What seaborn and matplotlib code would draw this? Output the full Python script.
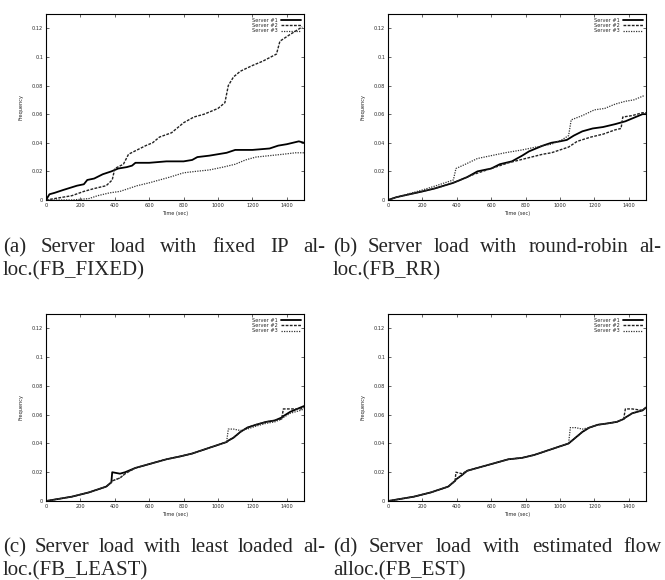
import matplotlib
matplotlib.use("Agg")
import matplotlib.pyplot as plt
import seaborn as sns

# ---- data ----
# (a) fixed IP allocation
a_t1 = [0, 20, 50, 100, 180, 220, 240, 280, 330, 380, 420, 470, 500, 520, 600, 700, 800, 850, 880, 950, 1000, 1050, 1100, 1200, 1300, 1350, 1400, 1470, 1500]
a_s1 = [0, .004, .005, .007, .010, .011, .014, .015, .018, .020, .022, .023, .024, .026, .026, .027, .027, .028, .030, .031, .032, .033, .035, .035, .036, .038, .039, .041, .040]
a_t2 = [0, 50, 150, 220, 280, 350, 385, 400, 450, 480, 530, 580, 620, 660, 730, 760, 800, 860, 920, 1000, 1040, 1060, 1090, 1130, 1200, 1260, 1340, 1360, 1410, 1450, 1490]
a_s2 = [0, .001, .003, .006, .008, .010, .014, .022, .025, .032, .035, .038, .040, .044, .047, .050, .054, .058, .060, .064, .068, .080, .086, .090, .094, .097, .102, .111, .115, .118, .121]
a_t3 = [0, 150, 250, 300, 370, 430, 480, 530, 600, 660, 720, 800, 870, 950, 1030, 1100, 1160, 1220, 1300, 1380, 1450, 1500]
a_s3 = [0, 0, .001, .003, .005, .006, .008, .010, .012, .014, .016, .019, .020, .021, .023, .025, .028, .030, .031, .032, .033, .033]

# (b) round-robin
b_t1 = [0, 50, 200, 270, 380, 460, 520, 600, 650, 720, 780, 820, 860, 900, 950, 1000, 1040, 1080, 1130, 1190, 1250, 1320, 1380, 1420, 1480, 1500]
b_s1 = [0, .002, .006, .008, .012, .016, .020, .022, .025, .027, .031, .034, .036, .038, .040, .041, .042, .045, .048, .050, .051, .053, .055, .057, .060, .060]
b_t2 = [0, 50, 200, 300, 400, 500, 600, 700, 800, 900, 950, 1000, 1050, 1100, 1180, 1250, 1320, 1355, 1365, 1420, 1480, 1500]
b_s2 = [0, .002, .006, .009, .013, .018, .022, .026, .029, .032, .033, .035, .037, .041, .044, .046, .049, .050, .058, .059, .061, .061]
b_t3 = [0, 50, 200, 280, 380, 395, 450, 520, 600, 680, 780, 860, 950, 1010, 1050, 1065, 1130, 1200, 1260, 1320, 1380, 1430, 1490]
b_s3 = [0, .002, .007, .010, .014, .022, .025, .029, .031, .033, .035, .037, .039, .042, .045, .056, .059, .063, .064, .067, .069, .070, .073]

# (c) least loaded
c_t = [0, 50, 150, 250, 350, 380, 385, 430, 460, 520, 580, 640, 700, 780, 850, 900, 950, 1000, 1050, 1060, 1090, 1130, 1170, 1220, 1280, 1330, 1370, 1380, 1420, 1480, 1500]
c_s1 = [0, .001, .003, .006, .010, .013, .020, .019, .020, .023, .025, .027, .029, .031, .033, .035, .037, .039, .041, .042, .044, .048, .051, .053, .055, .056, .058, .059, .062, .065, .066]
c_s2 = [0, .001, .003, .006, .010, .013, .014, .016, .019, .023, .025, .027, .029, .031, .033, .035, .037, .039, .041, .042, .044, .048, .051, .053, .055, .056, .057, .064, .064, .064, .065]
c_s3 = [0, .001, .003, .006, .010, .013, .014, .016, .019, .023, .025, .027, .029, .031, .033, .035, .037, .039, .041, .050, .050, .049, .050, .052, .054, .055, .057, .058, .061, .063, .064]

# (d) estimated flow
d_t = [0, 50, 150, 250, 350, 390, 395, 430, 460, 520, 580, 640, 700, 780, 850, 900, 950, 1000, 1050, 1060, 1090, 1130, 1170, 1220, 1280, 1330, 1370, 1380, 1420, 1480, 1500]
d_s1 = [0, .001, .003, .006, .010, .014, .015, .018, .021, .023, .025, .027, .029, .030, .032, .034, .036, .038, .040, .041, .044, .048, .051, .053, .054, .055, .057, .058, .061, .063, .065]
d_s2 = [0, .001, .003, .006, .010, .014, .020, .019, .021, .023, .025, .027, .029, .030, .032, .034, .036, .038, .040, .041, .044, .048, .051, .053, .054, .055, .057, .064, .064, .063, .065]
d_s3 = [0, .001, .003, .006, .010, .014, .015, .018, .021, .023, .025, .027, .029, .030, .032, .034, .036, .038, .040, .051, .051, .050, .051, .053, .054, .055, .057, .058, .061, .063, .065]

labels = ["Server #1", "Server #2", "Server #3"]
captions = [
    ("(a) Server load with fixed IP al-", "loc.(FB_FIXED)"),
    ("(b) Server load with round-robin al-", "loc.(FB_RR)"),
    ("(c) Server load with least loaded al-", "loc.(FB_LEAST)"),
    ("(d) Server load with estimated flow", "alloc.(FB_EST)"),
]
panels = [
    [(a_t1, a_s1), (a_t2, a_s2), (a_t3, a_s3)],
    [(b_t1, b_s1), (b_t2, b_s2), (b_t3, b_s3)],
    [(c_t, c_s1), (c_t, c_s2), (c_t, c_s3)],
    [(d_t, d_s1), (d_t, d_s2), (d_t, d_s3)],
]

sns.set_style("white")
plt.rcParams["font.family"] = ["DejaVu Sans"]

W, H = 665, 580
fig = plt.figure(figsize=(W / 100, H / 100), dpi=100)

styles = [
    dict(color="black", linewidth=1.3, linestyle="-"),
    dict(color="#222222", linewidth=1.0, linestyle=(0, (2, 1))),
    dict(color="#333333", linewidth=0.9, linestyle=(0, (1, 1))),
]

# axes boxes in pixels: left, top, right, bottom
boxes = [(46, 14, 304, 200), (388, 14, 646, 200), (46, 314, 304, 501), (388, 314, 646, 501)]
cap_x = [(3, 325), (333, 661), (3, 325), (333, 662)]
cap_y = [(252, 275), (252, 275), (552, 575), (552, 575)]
CAP_SIZE = 15

fig.canvas.draw()
renderer = fig.canvas.get_renderer()


def justified(line, x0, x1, y):
    words = line.split(" ")
    texts = [fig.text(0, 1 - y / H, w, fontsize=CAP_SIZE, family="Liberation Serif", va="baseline") for w in words]
    widths = [t.get_window_extent(renderer).width for t in texts]
    gap = (x1 - x0 - sum(widths)) / (len(words) - 1)
    x = x0
    for t, w in zip(texts, widths):
        t.set_x(x / W)
        x += w + gap


for i, (box, series) in enumerate(zip(boxes, panels)):
    l, t, r, b = box
    ax = fig.add_axes([l / W, 1 - b / H, (r - l) / W, (b - t) / H])
    for (xs, ys), lab, st in zip(series, labels, styles):
        sns.lineplot(x=xs, y=ys, ax=ax, label=lab, **st)
    ax.set_xlim(0, 1500)
    ax.set_ylim(0, 0.13)
    ax.set_xticks(range(0, 1401, 200))
    ax.set_yticks([0, 0.02, 0.04, 0.06, 0.08, 0.1, 0.12])
    ax.set_yticklabels(["0", "0.02", "0.04", "0.06", "0.08", "0.1", "0.12"])
    ax.tick_params(direction="in", length=2.5, width=0.5, labelsize=3.6, pad=2,
                   top=True, right=True, bottom=True, left=True)
    for sp in ax.spines.values():
        sp.set_color("black")
        sp.set_linewidth(0.8)
    ax.set_xlabel("Time (sec)", fontsize=3.6, labelpad=2)
    ax.set_ylabel("Frequency", fontsize=3.6, labelpad=6)
    ax.legend(loc="upper right", frameon=False, fontsize=3.6, markerfirst=False,
              handlelength=4, labelspacing=0.1, borderaxespad=0.3, handletextpad=0.6)

    x0, x1 = cap_x[i]
    y0, y1 = cap_y[i]
    justified(captions[i][0], x0, x1, y0)
    fig.text(x0 / W, 1 - y1 / H, captions[i][1], fontsize=CAP_SIZE, family="Liberation Serif", va="baseline")

fig.savefig("out.png", dpi=100)
